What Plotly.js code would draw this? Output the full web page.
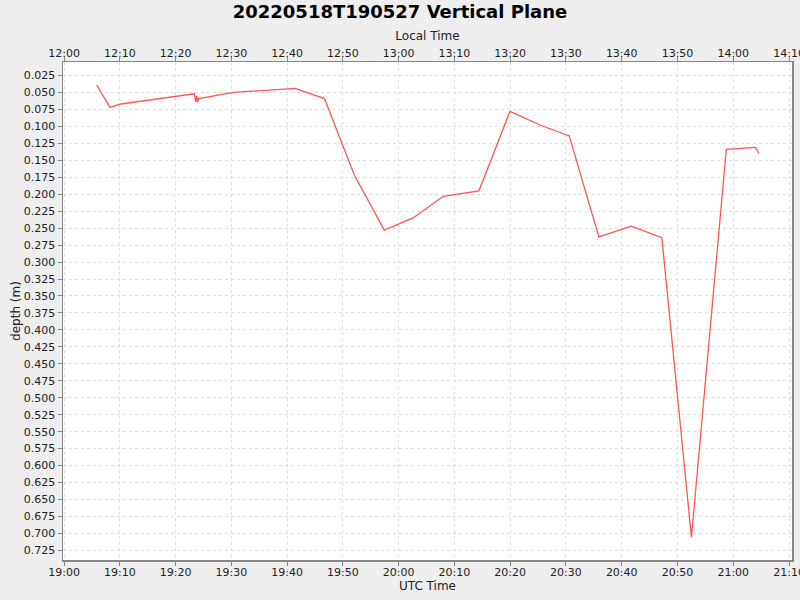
<!DOCTYPE html>
<html>
<head>
<meta charset="utf-8">
<script src="https://cdn.plot.ly/plotly-3.0.1.min.js"></script>
<style>
  html, body { margin: 0; padding: 0; background: #eeeeee; }
  #graph { width: 800px; height: 600px; }
</style>
</head>
<body>
<div id="graph"></div>
<script>
/* ---------------- data ---------------- */

var day = '2022-05-18 ';

// UTC sample times
var utcTimes = [
    '19:05:52', '19:08:15', '19:10:12', '19:23:22', '19:23:36',
    '19:23:48', '19:23:58', '19:24:09', '19:30:22', '19:41:24',
    '19:46:42', '19:52:04', '19:57:26', '20:02:36', '20:08:00',
    '20:14:24', '20:19:58', '20:25:21', '20:30:36', '20:35:54',
    '20:41:42', '20:47:12', '20:52:30', '20:58:45', '21:04:00',
    '21:04:36'
];

// depth in metres
var depths = [
    0.039, 0.072, 0.067, 0.052, 0.064,
    0.055, 0.064, 0.059, 0.050, 0.044,
    0.059, 0.172, 0.253, 0.235, 0.203,
    0.195, 0.078, 0.098, 0.114, 0.263,
    0.247, 0.264, 0.706, 0.134, 0.131,
    0.140
];

var utcOffsetHours = -7; // local time = UTC - 7h

/* ---------------- helpers ---------------- */

/**
 * Shifts a 'YYYY-MM-DD HH:MM:SS' string by a number of hours.
 * @param {string} s - date string.
 * @param {number} h - hours to add.
 * @return {string} shifted date string.
 */
function shiftHours(s, h) {
    var d = new Date(s.replace(' ', 'T') + 'Z');
    d = new Date(d.getTime() + h * 3600000);
    return d.toISOString().slice(0, 19).replace('T', ' ');
}

var xUtc = utcTimes.map(function(t) { return day + t; });
var xLocal = xUtc.map(function(t) { return shiftHours(t, utcOffsetHours); });

var utcRange = [day + '18:59:49', day + '21:10:32'];
var localRange = utcRange.map(function(t) { return shiftHours(t, utcOffsetHours); });

/* ---------------- traces ---------------- */

var depthTrace = {
    x: xUtc,
    y: depths,
    mode: 'lines',
    line: { color: 'rgb(255, 85, 85)', width: 1.3 },
    showlegend: false
};

// carries the top (local time) axis, not visible itself
var localTrace = {
    x: xLocal,
    y: depths,
    xaxis: 'x2',
    mode: 'lines',
    line: { width: 0 },
    opacity: 0,
    hoverinfo: 'skip',
    showlegend: false
};

var tickFont = { family: 'DejaVu Sans', size: 11, color: '#222' };
var titleFont = { family: 'DejaVu Sans', size: 12, color: '#222' };

var layout = {
    width: 800,
    height: 600,
    paper_bgcolor: '#eeeeee',
    plot_bgcolor: '#ffffff',
    margin: { l: 63, r: 8, t: 62, b: 40 },
    title: {
        text: '<b>20220518T190527 Vertical Plane</b>',
        font: { family: 'DejaVu Sans', size: 18, color: '#000' },
        x: 0.5,
        xanchor: 'center',
        y: 0.98,
        yanchor: 'middle'
    },
    xaxis: {
        type: 'date',
        range: utcRange,
        tick0: day + '19:00:00',
        dtick: 600000,
        tickformat: '%H:%M',
        ticks: 'outside',
        ticklen: 4,
        tickcolor: '#888',
        tickfont: tickFont,
        ticklabelstandoff: -3,
        ticklabeloverflow: 'allow',
        showline: true,
        linecolor: '#888',
        linewidth: 1.5,
        showgrid: true,
        gridcolor: '#dddddd',
        griddash: '3px,3px',
        zeroline: false,
        title: { text: 'UTC Time', font: titleFont, standoff: 4 }
    },
    xaxis2: {
        type: 'date',
        overlaying: 'x',
        side: 'top',
        anchor: 'y',
        range: localRange,
        tick0: '2022-05-18 12:00:00',
        dtick: 600000,
        tickformat: '%H:%M',
        ticks: 'outside',
        ticklen: 4,
        tickcolor: '#888',
        tickfont: tickFont,
        ticklabelstandoff: -5,
        ticklabeloverflow: 'allow',
        showline: true,
        linecolor: '#888',
        linewidth: 1.5,
        showgrid: false,
        zeroline: false,
        title: { text: 'Local Time', font: titleFont, standoff: 4 }
    },
    yaxis: {
        range: [0.7392, 0.0051],
        tick0: 0,
        dtick: 0.025,
        tickformat: '.3f',
        ticks: 'outside',
        ticklen: 4,
        tickcolor: '#888',
        tickfont: tickFont,
        showline: true,
        mirror: true,
        linecolor: '#888',
        linewidth: 1.5,
        showgrid: true,
        gridcolor: '#dddddd',
        griddash: '3px,3px',
        zeroline: false,
        title: { text: 'depth (m)', font: titleFont, standoff: 0 }
    }
};

Plotly.newPlot('graph', [depthTrace, localTrace], layout, { staticPlot: true });
</script>
</body>
</html>
